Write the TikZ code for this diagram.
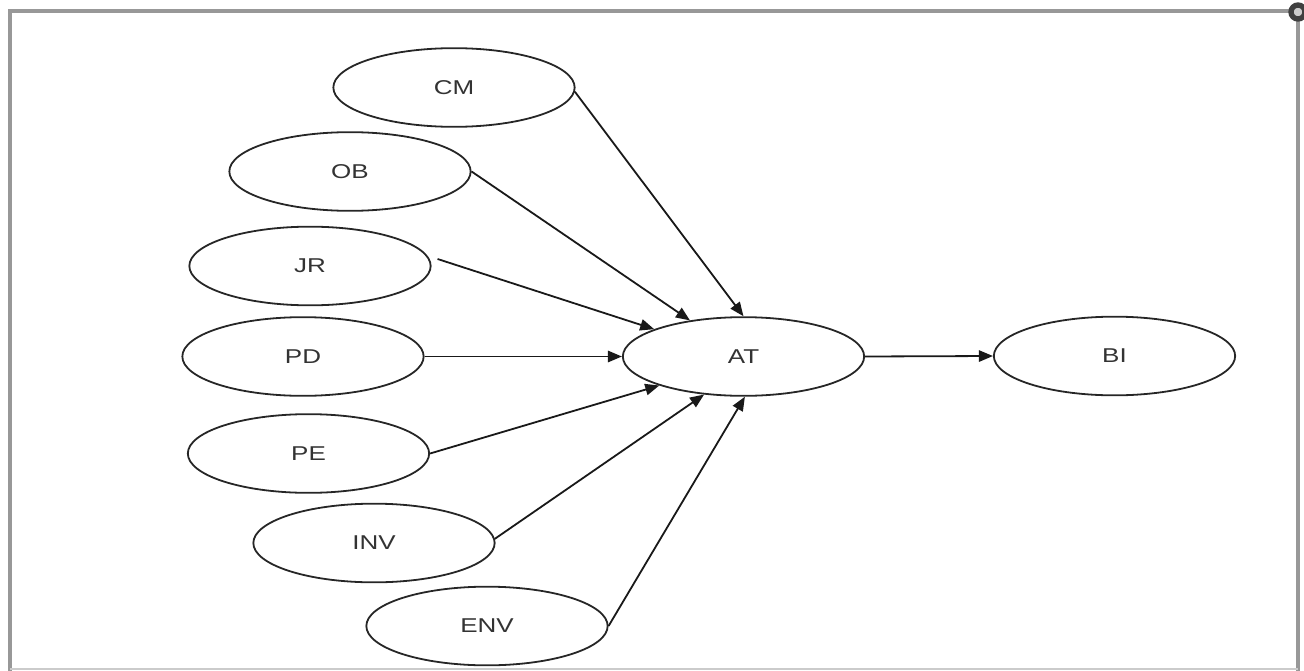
\documentclass[tikz,border=0pt]{standalone}
\usepackage{fontspec}
\setmainfont{Liberation Sans}
\newfontfamily\lblfont[FakeStretch=1.3]{Liberation Sans}
\usetikzlibrary{shapes.geometric,arrows.meta}
\definecolor{txt}{HTML}{333333}
\definecolor{framec}{HTML}{989898}
\begin{document}
\begin{tikzpicture}[x=0.75pt,y=-0.75pt,
  var/.style={draw=black!85,line width=1.35pt,ellipse,minimum width=181pt,minimum height=59pt,inner sep=0pt,
    font=\lblfont\fontsize{15}{17}\selectfont,text=txt},
  arr/.style={draw=black!90,line width=1.35pt,-{Triangle[length=10.5pt,width=8.5pt]}}]
\useasboundingbox (0,0) rectangle (1304,671);
% frame
\draw[framec,line width=2.6pt] (10,671) -- (10,11) -- (1298,11) -- (1298,671);
\draw[framec!50,line width=1pt] (10,669) -- (1298,669);
\draw[black!75,line width=4pt,fill=black!20] (1298,12) circle (7);
% nodes
\node[var] (CM)  at (454,87.5)  {CM};
\node[var] (OB)  at (350,171.5) {OB};
\node[var] (JR)  at (310,266)   {JR};
\node[var] (PD)  at (303,356.5) {PD};
\node[var] (PE)  at (308.5,453.5) {PE};
\node[var] (INV) at (374,543)   {INV};
\node[var] (ENV) at (487,626)   {ENV};
\node[var] (AT)  at (743.5,356.5) {AT};
\node[var] (BI)  at (1114.5,356) {BI};
% connectors
\draw[arr] (CM.358) -- (AT.north);
\draw[arr] (OB.east) -- (AT.146);
\draw[arr] ([shift={(6,-7)}]JR.east) -- (AT.163);
\draw[arr] (PD.east) -- (AT.west);
\draw[arr] (PE.east) -- (AT.199);
\draw[arr] (INV.2) -- (AT.224);
\draw[arr] (ENV.east) -- (AT.272);
\draw[arr] (AT.east) -- (BI.west);
\end{tikzpicture}
\end{document}
